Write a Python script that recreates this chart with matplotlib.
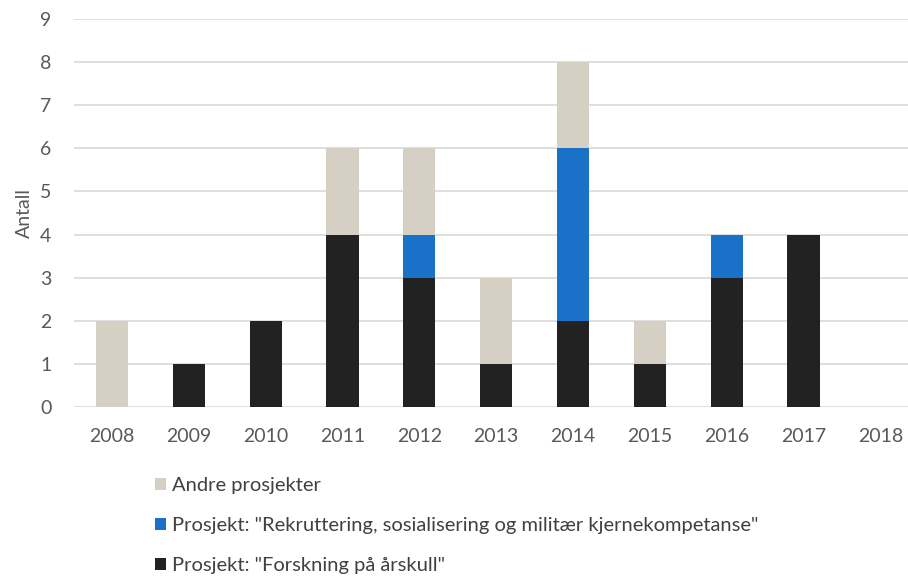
import matplotlib.pyplot as plt
import numpy as np

years = ["2008", "2009", "2010", "2011", "2012", "2013", "2014", "2015", "2016", "2017", "2018"]
forskning = [0, 1, 2, 4, 3, 1, 2, 1, 3, 4, 0]
rekruttering = [0, 0, 0, 0, 1, 0, 4, 0, 1, 0, 0]
andre = [2, 0, 0, 2, 2, 2, 2, 1, 0, 0, 0]

lbl_andre = "Andre prosjekter"
lbl_rekr = 'Prosjekt: "Rekruttering, sosialisering og militær kjernekompetanse"'
lbl_forsk = 'Prosjekt: "Forskning på årskull"'

plt.rcParams['font.family'] = ['Lato', 'DejaVu Sans']
txt = "#595959"

fig = plt.figure(figsize=(9.08, 5.76), dpi=100)
ax = fig.add_axes([0.081, 0.2934, 0.919, 0.6736])

x = np.arange(len(years))
w = 0.42
f = np.array(forskning)
r = np.array(rekruttering)
a = np.array(andre)
b1 = ax.bar(x, f, w, color="#222222", zorder=2)
b2 = ax.bar(x, r, w, bottom=f, color="#1a72c8", zorder=2)
b3 = ax.bar(x, a, w, bottom=f + r, color="#d5cfc4", zorder=2)

ax.set_xlim(-0.5, 10.36)
ax.set_ylim(0, 9)
ax.set_yticks(range(0, 10))
ax.set_xticks(x)
ax.set_xticklabels(years)
ax.grid(axis="y", color="#d9d9d9", linewidth=1.2, zorder=0)
for s in ax.spines.values():
    s.set_visible(False)
ax.tick_params(length=0, labelsize=14, colors=txt, pad=15)
ax.tick_params(axis="y", pad=16)
ax.set_ylabel("Antall", fontsize=14, color=txt, labelpad=5)

fig.legend([b3, b2, b1], [lbl_andre, lbl_rekr, lbl_forsk],
           loc="upper left", bbox_to_anchor=(0.171, 0.172),
           frameon=False, fontsize=14.5, labelcolor="#404040",
           handlelength=0.55, handleheight=0.55, handletextpad=0.3,
           labelspacing=1.15, borderaxespad=0, borderpad=0)

fig.savefig("out.png", dpi=100)
